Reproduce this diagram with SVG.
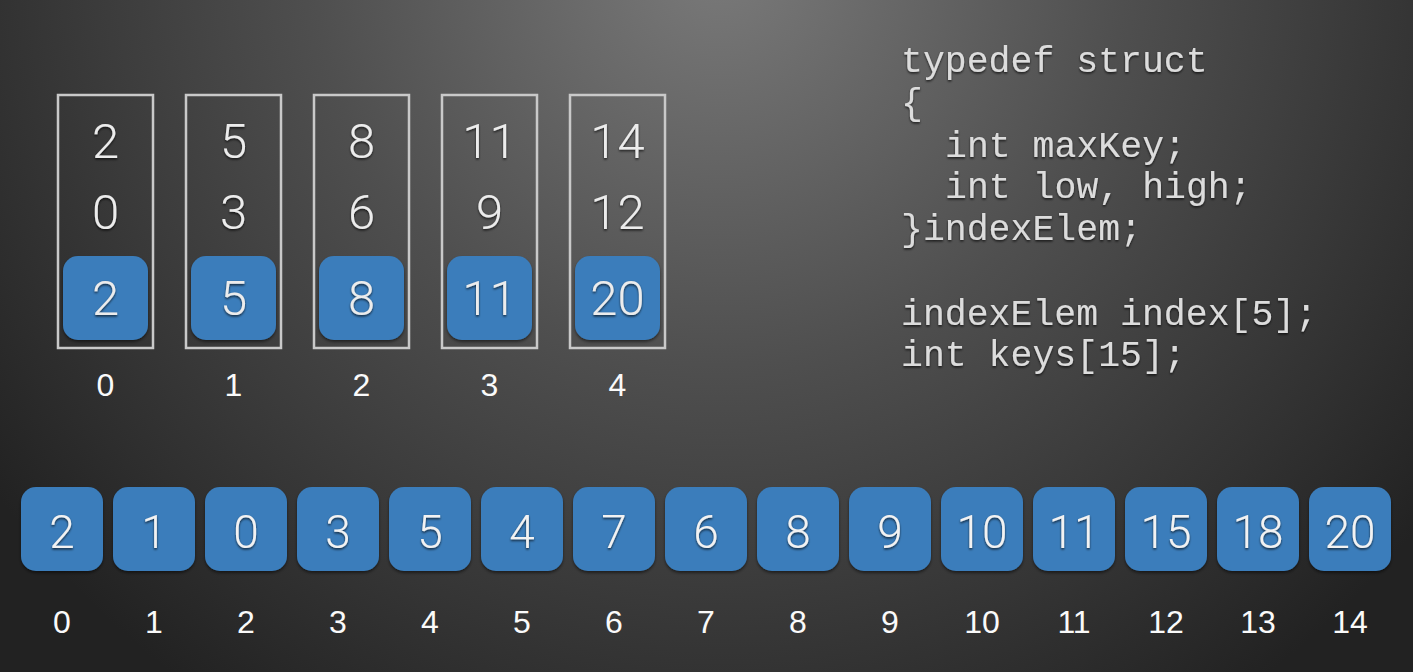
<svg xmlns="http://www.w3.org/2000/svg" width="1413" height="672" viewBox="0 0 1413 672">
<defs>
<radialGradient id="bg" cx="720" cy="-40" r="900" gradientUnits="userSpaceOnUse">
<stop offset="0" stop-color="#7a7a7a"/>
<stop offset="0.45" stop-color="#4f4f4f"/>
<stop offset="1" stop-color="#222"/>
</radialGradient>
<filter id="sh" x="-20%" y="-20%" width="140%" height="150%">
<feDropShadow dx="0" dy="1.5" stdDeviation="1" flood-color="#000" flood-opacity="0.7"/>
</filter>
<filter id="bsh" x="-10%" y="-10%" width="120%" height="125%">
<feDropShadow dx="0" dy="2" stdDeviation="1.5" flood-color="#000" flood-opacity="0.5"/>
</filter>
</defs>
<style>
.frame{fill:none;stroke:#c9c9c9;stroke-width:2.5}
.blue{fill:#3a7dbb;filter:url(#bsh)}
.num{font-family:Roboto,"Liberation Sans",sans-serif;font-weight:300;font-size:49px;fill:#ececec;text-anchor:middle;filter:url(#sh)}
.bnum{font-family:Roboto,"Liberation Sans",sans-serif;font-weight:300;font-size:46px;fill:#f2f2f2;text-anchor:middle;filter:url(#sh)}
.lbl{font-family:"Liberation Sans",Arial,sans-serif;font-size:32px;fill:#fafafa;text-anchor:middle}
.code{font-family:"Liberation Mono","Courier New",monospace;font-size:36.5px;fill:#dcdcdc;filter:url(#sh)}
</style>
<rect width="1413" height="672" fill="url(#bg)"/>

<g id="index-0">
<rect class="frame" x="58" y="95" width="95" height="253"/>
<text class="num" x="105.5" y="158">2</text>
<text class="num" x="105.5" y="229">0</text>
<rect class="blue" x="63" y="256" width="85" height="84" rx="15"/>
<text class="num" x="105.5" y="315">2</text>
<text class="lbl" x="105.5" y="396">0</text>
</g>
<g id="index-1">
<rect class="frame" x="186" y="95" width="95" height="253"/>
<text class="num" x="233.5" y="158">5</text>
<text class="num" x="233.5" y="229">3</text>
<rect class="blue" x="191" y="256" width="85" height="84" rx="15"/>
<text class="num" x="233.5" y="315">5</text>
<text class="lbl" x="233.5" y="396">1</text>
</g>
<g id="index-2">
<rect class="frame" x="314" y="95" width="95" height="253"/>
<text class="num" x="361.5" y="158">8</text>
<text class="num" x="361.5" y="229">6</text>
<rect class="blue" x="319" y="256" width="85" height="84" rx="15"/>
<text class="num" x="361.5" y="315">8</text>
<text class="lbl" x="361.5" y="396">2</text>
</g>
<g id="index-3">
<rect class="frame" x="442" y="95" width="95" height="253"/>
<text class="num" x="489.5" y="158">11</text>
<text class="num" x="489.5" y="229">9</text>
<rect class="blue" x="447" y="256" width="85" height="84" rx="15"/>
<text class="num" x="489.5" y="315">11</text>
<text class="lbl" x="489.5" y="396">3</text>
</g>
<g id="index-4">
<rect class="frame" x="570" y="95" width="95" height="253"/>
<text class="num" x="617.5" y="158">14</text>
<text class="num" x="617.5" y="229">12</text>
<rect class="blue" x="575" y="256" width="85" height="84" rx="15"/>
<text class="num" x="617.5" y="315">20</text>
<text class="lbl" x="617.5" y="396">4</text>
</g>

<g id="code">
<text class="code" x="901" y="72">typedef struct</text>
<text class="code" x="901" y="114">{</text>
<text class="code" x="945" y="157">int maxKey;</text>
<text class="code" x="945" y="198">int low, high;</text>
<text class="code" x="901" y="240">}indexElem;</text>
<text class="code" x="901" y="325">indexElem index[5];</text>
<text class="code" x="901" y="366">int keys[15];</text>
</g>

<g id="keys">
<g id="key-0"><rect class="blue" x="21" y="487" width="82" height="84" rx="15"/><text class="bnum" x="62" y="548">2</text><text class="lbl" x="62" y="633">0</text></g>
<g id="key-1"><rect class="blue" x="113" y="487" width="82" height="84" rx="15"/><text class="bnum" x="154" y="548">1</text><text class="lbl" x="154" y="633">1</text></g>
<g id="key-2"><rect class="blue" x="205" y="487" width="82" height="84" rx="15"/><text class="bnum" x="246" y="548">0</text><text class="lbl" x="246" y="633">2</text></g>
<g id="key-3"><rect class="blue" x="297" y="487" width="82" height="84" rx="15"/><text class="bnum" x="338" y="548">3</text><text class="lbl" x="338" y="633">3</text></g>
<g id="key-4"><rect class="blue" x="389" y="487" width="82" height="84" rx="15"/><text class="bnum" x="430" y="548">5</text><text class="lbl" x="430" y="633">4</text></g>
<g id="key-5"><rect class="blue" x="481" y="487" width="82" height="84" rx="15"/><text class="bnum" x="522" y="548">4</text><text class="lbl" x="522" y="633">5</text></g>
<g id="key-6"><rect class="blue" x="573" y="487" width="82" height="84" rx="15"/><text class="bnum" x="614" y="548">7</text><text class="lbl" x="614" y="633">6</text></g>
<g id="key-7"><rect class="blue" x="665" y="487" width="82" height="84" rx="15"/><text class="bnum" x="706" y="548">6</text><text class="lbl" x="706" y="633">7</text></g>
<g id="key-8"><rect class="blue" x="757" y="487" width="82" height="84" rx="15"/><text class="bnum" x="798" y="548">8</text><text class="lbl" x="798" y="633">8</text></g>
<g id="key-9"><rect class="blue" x="849" y="487" width="82" height="84" rx="15"/><text class="bnum" x="890" y="548">9</text><text class="lbl" x="890" y="633">9</text></g>
<g id="key-10"><rect class="blue" x="941" y="487" width="82" height="84" rx="15"/><text class="bnum" x="982" y="548">10</text><text class="lbl" x="982" y="633">10</text></g>
<g id="key-11"><rect class="blue" x="1033" y="487" width="82" height="84" rx="15"/><text class="bnum" x="1074" y="548">11</text><text class="lbl" x="1074" y="633">11</text></g>
<g id="key-12"><rect class="blue" x="1125" y="487" width="82" height="84" rx="15"/><text class="bnum" x="1166" y="548">15</text><text class="lbl" x="1166" y="633">12</text></g>
<g id="key-13"><rect class="blue" x="1217" y="487" width="82" height="84" rx="15"/><text class="bnum" x="1258" y="548">18</text><text class="lbl" x="1258" y="633">13</text></g>
<g id="key-14"><rect class="blue" x="1309" y="487" width="82" height="84" rx="15"/><text class="bnum" x="1350" y="548">20</text><text class="lbl" x="1350" y="633">14</text></g>
</g>
</svg>
